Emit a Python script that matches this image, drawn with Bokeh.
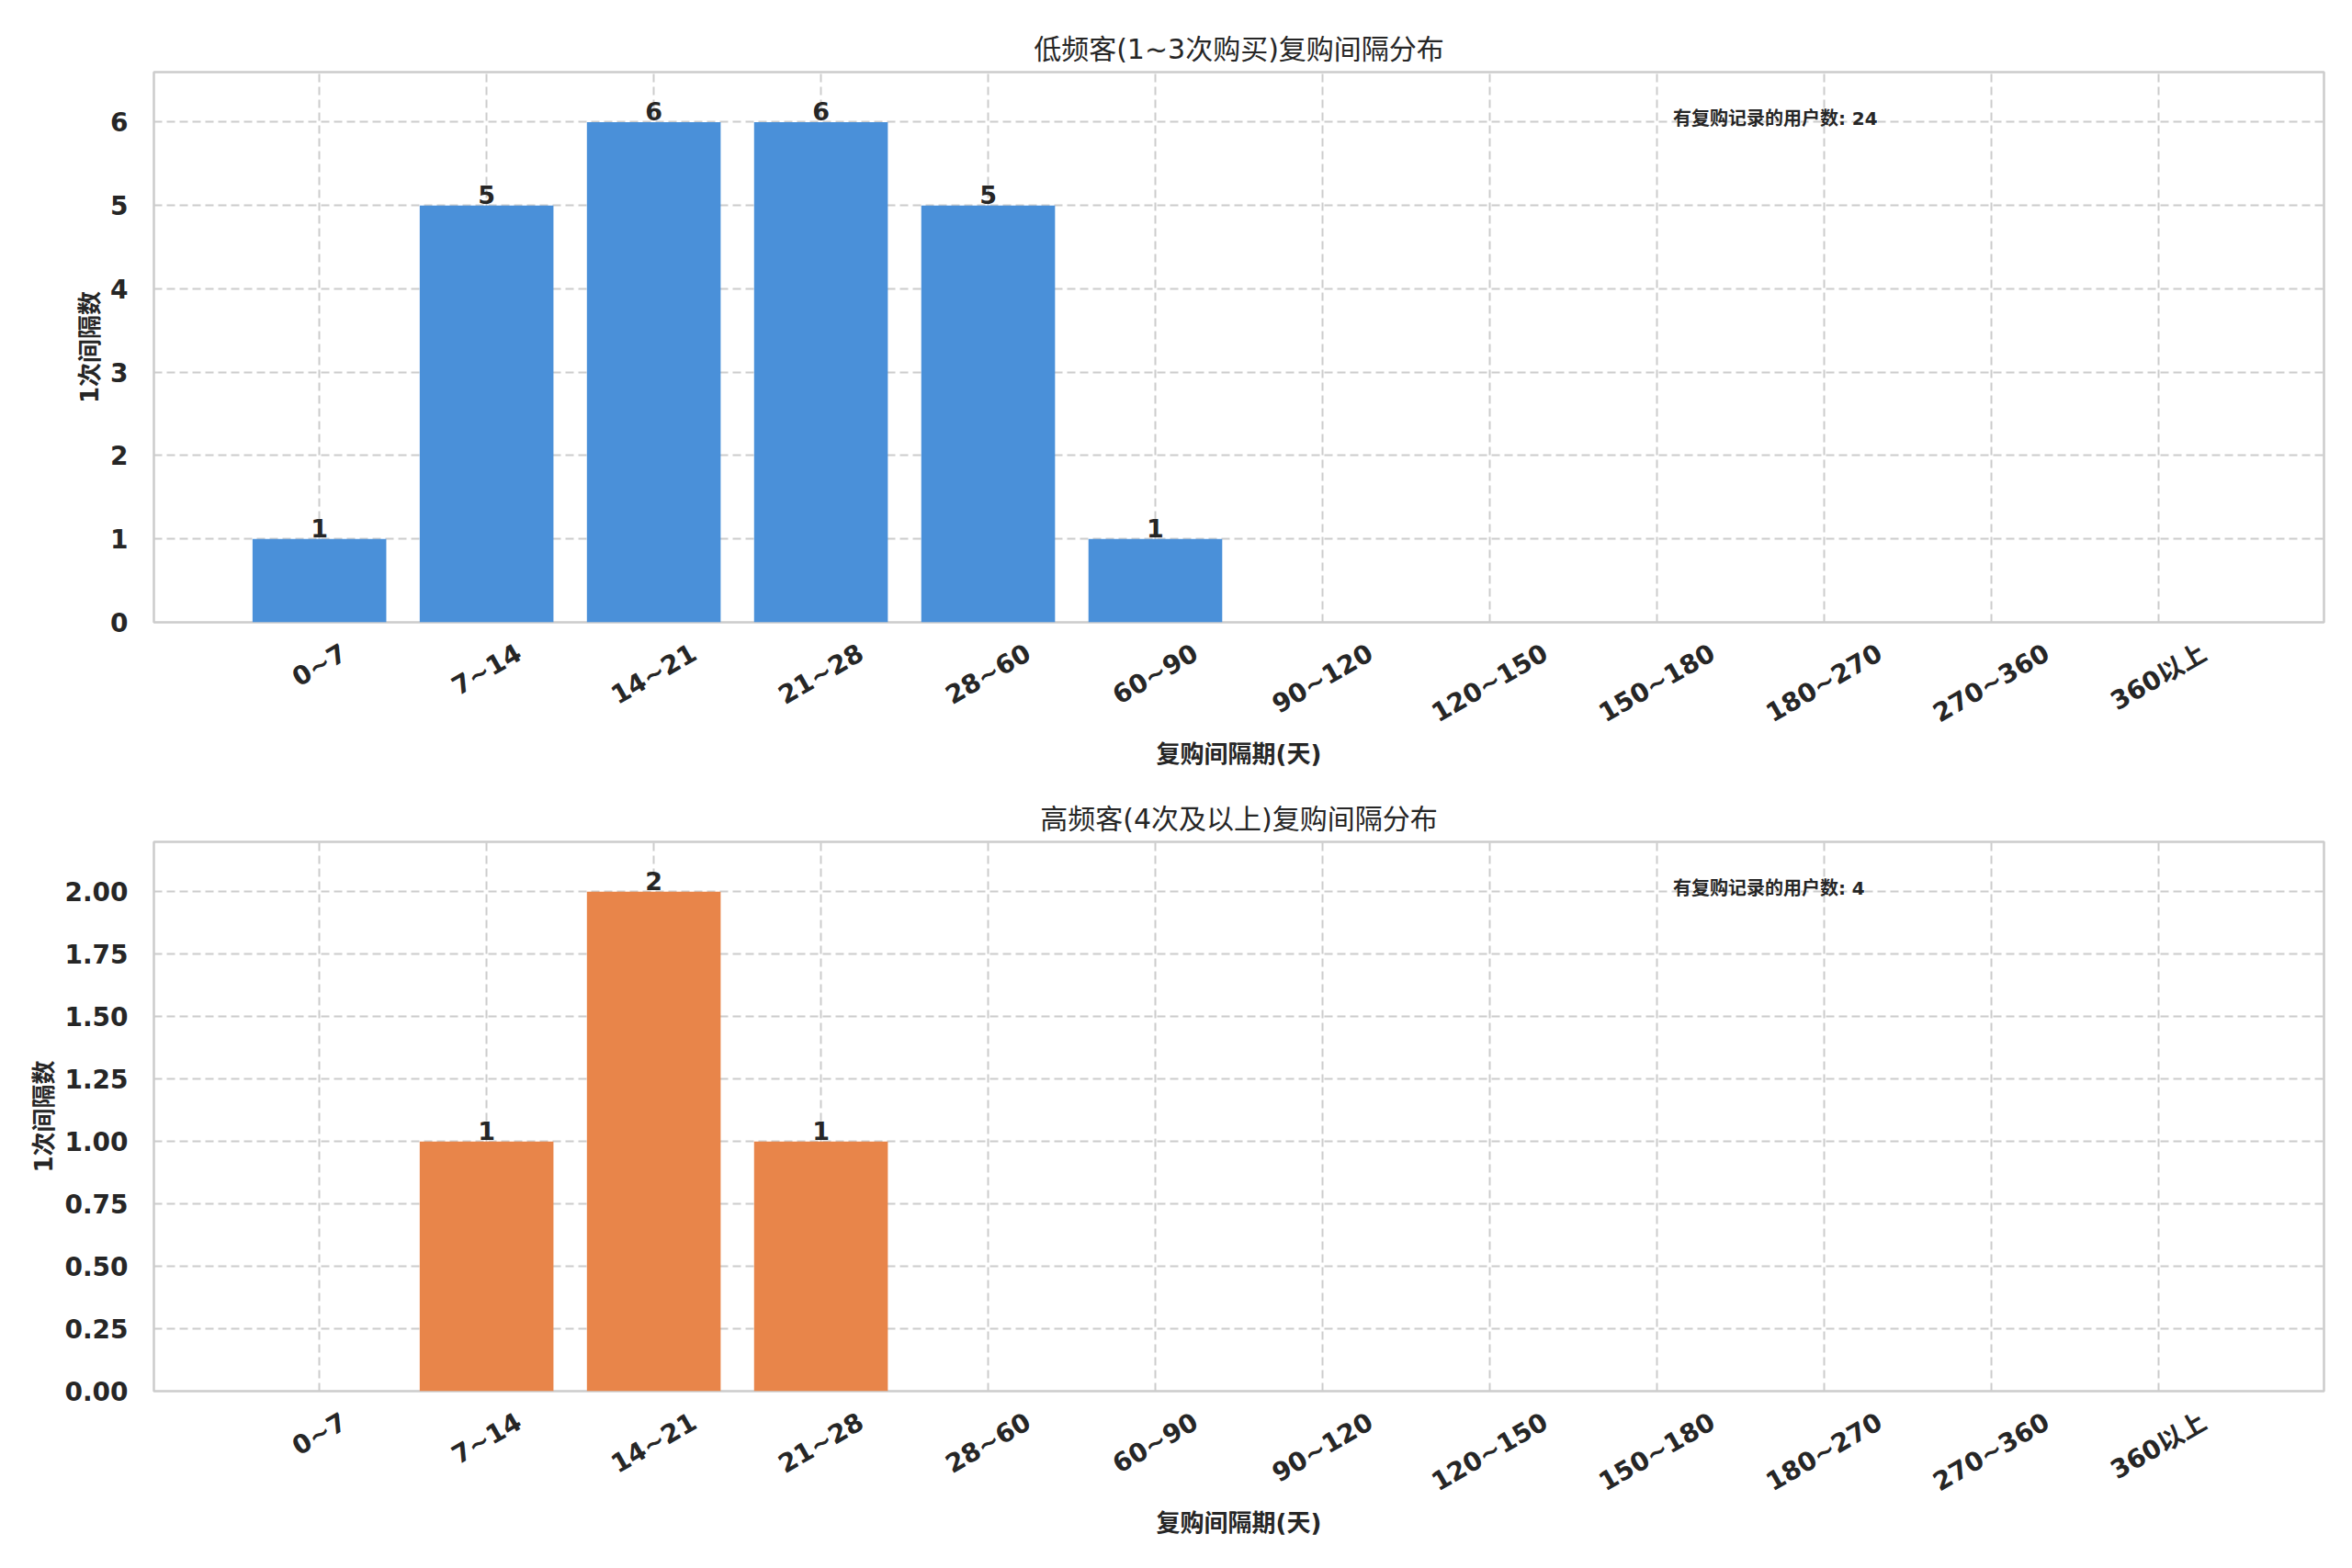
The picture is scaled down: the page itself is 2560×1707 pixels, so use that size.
import math
from bokeh.plotting import figure
from bokeh.layouts import column
from bokeh.models import ColumnDataSource, Range1d, FixedTicker, Label
from bokeh.embed import file_html
from bokeh.resources import INLINE

# ---- data ----
categories = ["0~7", "7~14", "14~21", "21~28", "28~60", "60~90", "90~120",
              "120~150", "150~180", "180~270", "270~360", "360以上"]
low_freq_counts = [1, 5, 6, 6, 5, 1, 0, 0, 0, 0, 0, 0]
high_freq_counts = [0, 1, 2, 1, 0, 0, 0, 0, 0, 0, 0, 0]
titles = ["低频客(1~3次购买)复购间隔分布", "高频客(4次及以上)复购间隔分布"]
x_label = "复购间隔期(天)"
y_label = "1次间隔数"
total_label = "有复购记录的用户数"
colors = ["#4A90D9", "#E8854A"]

FONT = "DejaVu Sans, Noto Sans CJK SC"
TXT = "#262626"
FIG_W = 2560
BORDER_L, BORDER_R = 167, 31
FRAME_W = FIG_W - BORDER_L - BORDER_R
TICK_FS = 28
ANGLE = math.pi / 6


def char_w(ch):
    if ch.isdigit():
        return 0.696
    if ch == "~":
        return 0.838
    if ord(ch) > 0x2E80:
        return 1.0
    return 0.6


def make_fig(values, title, color, height, top_border, bottom_border, ytick_step, yfmt):
    n = len(categories)
    xs = list(range(n))
    pad = 0.05 * (n - 1 + 0.8)
    x0, x1 = -0.4 - pad, (n - 1) + 0.4 + pad
    ymax = max(values) * 1.1
    p = figure(width=FIG_W, height=height, output_backend="svg", toolbar_location=None,
               x_range=Range1d(x0, x1), y_range=Range1d(0, ymax),
               min_border_left=BORDER_L, min_border_right=BORDER_R,
               min_border_top=top_border, min_border_bottom=bottom_border,
               background_fill_color="white", border_fill_color="white")
    p.title.text = title
    p.title.align = "center"
    p.title.text_font = FONT
    p.title.text_font_size = "30px"
    p.title.text_font_style = "normal"
    p.title.text_color = TXT
    p.title.standoff = 15

    src = ColumnDataSource(dict(x=xs, top=values,
                                lab=[str(v) if v > 0 else "" for v in values]))
    p.vbar(x="x", top="top", width=0.8, bottom=0, source=src, fill_color=color, line_color=None)
    p.text(x="x", y="top", text="lab", source=src, text_align="center",
           text_baseline="bottom", y_offset=-2, text_font_size="27px", text_font_style="bold",
           text_color=TXT, text_font={"value": FONT})

    # x ticks: Bokeh right-aligns rotated labels at the tick; shift so the label is centred
    px_per_unit = FRAME_W / (x1 - x0)
    tick_pos = []
    for i, c in enumerate(categories):
        w = sum(char_w(ch) for ch in c) * TICK_FS
        tick_pos.append(i + (w * math.cos(ANGLE) / 2) / px_per_unit)
    p.xaxis.ticker = FixedTicker(ticks=tick_pos)
    p.xaxis.major_label_overrides = {t: c for t, c in zip(tick_pos, categories)}
    p.xaxis.major_label_orientation = ANGLE

    ticks = []
    t = 0.0
    while t <= ymax + 1e-9:
        ticks.append(round(t, 4))
        t += ytick_step
    p.yaxis.ticker = FixedTicker(ticks=ticks)
    p.yaxis.major_label_overrides = {tk: yfmt.format(tk) for tk in ticks}
    for ax in (p.xaxis[0], p.yaxis[0]):
        ax.axis_line_color = None
        ax.major_tick_line_color = None
        ax.minor_tick_line_color = None
        ax.major_label_text_font = FONT
        ax.major_label_text_font_size = f"{TICK_FS}px"
        ax.major_label_text_font_style = "bold"
        ax.major_label_text_color = TXT
        ax.axis_label_text_font = FONT
        ax.axis_label_text_font_size = "26px"
        ax.axis_label_text_font_style = "bold"
        ax.axis_label_text_color = TXT
    p.xaxis.major_label_standoff = 25
    p.xaxis.axis_label_standoff = -4
    p.yaxis.major_label_standoff = 22
    p.yaxis.axis_label_standoff = 4
    p.xaxis.axis_label = x_label
    p.yaxis.axis_label = y_label

    for g in (p.xgrid[0], p.ygrid[0]):
        g.grid_line_color = "#cccccc"
        g.grid_line_width = 2
        g.grid_line_dash = "9 5"
    p.xgrid.ticker = FixedTicker(ticks=xs)
    p.outline_line_color = "#cccccc"
    p.outline_line_width = 2.5

    p.add_layout(Label(x=x0 + 0.7 * (x1 - x0), y=0.915 * ymax,
                       text=f"{total_label}: {sum(values)}",
                       text_align="left", text_baseline="middle",
                       text_font=FONT, text_font_size="20px", text_font_style="bold",
                       text_color=TXT))
    return p


p1 = make_fig(low_freq_counts, titles[0], colors[0], 863, 78, 186, 1, "{:.0f}")
p2 = make_fig(high_freq_counts, titles[1], colors[1], 844, 53, 193, 0.25, "{:.2f}")
layout = column(p1, p2, spacing=0)

open("out.html", "w").write(file_html(layout, INLINE))
